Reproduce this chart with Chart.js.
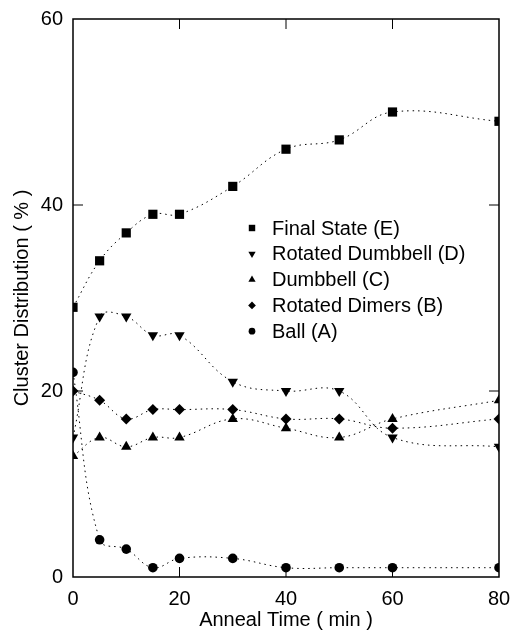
<!DOCTYPE html>
<html>
<head>
<meta charset="utf-8">
<script src="https://cdn.jsdelivr.net/npm/chart.js@4"></script>
<style>
  html, body { margin: 0; padding: 0; background: #fff; }
  #wrap { width: 511px; height: 632px; position: relative; }
</style>
</head>
<body>
<div id="wrap"><canvas id="clusterChart"></canvas></div>
<script>
// anneal time (min)
const times = [0, 5, 10, 15, 20, 30, 40, 50, 60, 80];

// cluster distribution (%)
const finalState = [29, 34, 37, 39, 39, 42, 46, 47, 50, 49];
const rotatedDumbbell = [15, 28, 28, 26, 26, 21, 20, 20, 15, 14];
const dumbbell = [13, 15, 14, 15, 15, 17, 16, 15, 17, 19];
const rotatedDimers = [20, 19, 17, 18, 18, 18, 17, 17, 16, 17];
const ball = [22, 4, 3, 1, 2, 2, 1, 1, 1, 1];

const xTicks = [0, 20, 40, 60, 80];
const yTicks = [0, 20, 40, 60];

const FONT = '"Liberation Sans", Arial, Helvetica, sans-serif';

function series(label, values, style, radius, rotation) {
    return {
        label: label,
        data: values.map((v, i) => ({ x: times[i], y: v })),
        borderColor: '#000',
        backgroundColor: '#000',
        borderWidth: 1,
        borderDash: [1.5, 4],
        tension: 0.4,
        pointStyle: style,
        pointRadius: radius,
        pointRotation: rotation || 0,
        pointBorderWidth: 0,
        fill: false
    };
}

// frame + inward ticks on all four sides
const framePlugin = {
    id: 'frame',
    afterDraw(chart) {
        const { ctx, chartArea: a, scales } = chart;
        ctx.save();
        ctx.strokeStyle = '#000';
        ctx.lineWidth = 1.5;
        ctx.strokeRect(a.left, a.top, a.right - a.left, a.bottom - a.top);
        ctx.lineWidth = 1;
        const len = 10;
        xTicks.slice(1, -1).forEach(v => {
            const px = scales.x.getPixelForValue(v);
            ctx.beginPath();
            ctx.moveTo(px, a.bottom); ctx.lineTo(px, a.bottom - len);
            ctx.moveTo(px, a.top); ctx.lineTo(px, a.top + len);
            ctx.stroke();
        });
        yTicks.slice(1, -1).forEach(v => {
            const py = scales.y.getPixelForValue(v);
            ctx.beginPath();
            ctx.moveTo(a.left, py); ctx.lineTo(a.left + len, py);
            ctx.moveTo(a.right, py); ctx.lineTo(a.right - len, py);
            ctx.stroke();
        });
        ctx.restore();
    }
};

// legend drawn inside the plot area
const insideLegend = {
    id: 'insideLegend',
    afterDraw(chart) {
        const { ctx } = chart;
        const x0 = 252, y0 = 228, step = 25.8;
        ctx.save();
        ctx.font = '20px ' + FONT;
        ctx.fillStyle = '#000';
        ctx.textBaseline = 'middle';
        chart.data.datasets.forEach((ds, i) => {
            const y = y0 + i * step;
            Chart.helpers.drawPoint(ctx, {
                pointStyle: ds.pointStyle,
                radius: ds.pointRadius * 0.7,
                rotation: ds.pointRotation,
                borderWidth: 0
            }, x0, y);
            ctx.fillText(ds.label, x0 + 20, y + 1);
        });
        ctx.restore();
    }
};

new Chart(document.getElementById('clusterChart'), {
    type: 'line',
    data: {
        datasets: [
            series('Final State (E)', finalState, 'rect', 6.5),
            series('Rotated Dumbbell (D)', rotatedDumbbell, 'triangle', 6, 180),
            series('Dumbbell (C)', dumbbell, 'triangle', 6),
            series('Rotated Dimers (B)', rotatedDimers, 'rectRot', 5.5),
            series('Ball (A)', ball, 'circle', 4.8)
        ]
    },
    options: {
        responsive: true,
        maintainAspectRatio: false,
        animation: false,
        layout: { padding: { top: 19, right: 12, left: 0, bottom: 0 } },
        plugins: {
            legend: { display: false },
            tooltip: { enabled: false }
        },
        scales: {
            x: {
                type: 'linear',
                min: 0, max: 80,
                afterBuildTicks: s => { s.ticks = xTicks.map(v => ({ value: v })); },
                afterFit: s => { s.height = 55; s.paddingLeft = 0; s.paddingRight = 0; },
                grid: { display: false, drawTicks: false },
                border: { display: false },
                ticks: { color: '#000', padding: 10, maxRotation: 0, font: { family: FONT, size: 20 } },
                title: { display: true, text: 'Anneal Time ( min )', color: '#000', padding: { top: 0, bottom: 0 }, font: { family: FONT, size: 20 } }
            },
            y: {
                min: 0, max: 60,
                afterBuildTicks: s => { s.ticks = yTicks.map(v => ({ value: v })); },
                afterFit: s => { s.width = 73; s.paddingTop = 0; s.paddingBottom = 0; },
                grid: { display: false, drawTicks: false },
                border: { display: false },
                ticks: { color: '#000', padding: 10, font: { family: FONT, size: 20 } },
                title: { display: true, text: 'Cluster Distribution ( % )', color: '#000', padding: { top: 10, bottom: 0 }, font: { family: FONT, size: 20 } }
            }
        }
    },
    plugins: [framePlugin, insideLegend]
});
</script>
</body>
</html>
